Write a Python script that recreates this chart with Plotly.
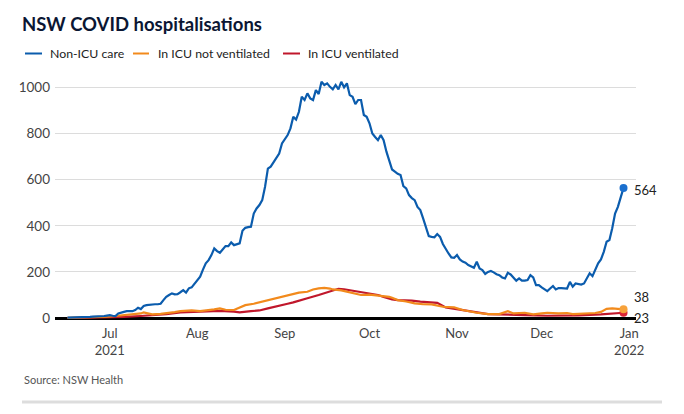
import pandas as pd
import plotly.graph_objects as go

# ---------------- data ----------------
non_icu_start = "2021-06-16"
non_icu = [
    # Jun 16-30
    2, 2, 3, 3, 3, 3, 4, 5, 5, 6, 6, 7, 8, 9, 11,
    # Jul
    13, 10, 9, 20, 22, 27, 30, 30, 30, 35, 45, 39, 52, 56, 58, 59, 60, 60, 62, 78,
    92, 100, 107, 103, 104, 112, 121, 110, 129, 133, 150,
    # Aug
    165, 179, 210, 237, 251, 273, 302, 290, 283, 300, 312, 312, 328, 316, 320, 324,
    378, 391, 394, 396, 453, 475, 490, 511, 569, 648, 656, 675, 692, 713, 757,
    # Sep
    775, 793, 822, 872, 860, 894, 959, 945, 974, 952, 945, 988, 971, 1024, 1010,
    1017, 1002, 991, 1010, 991, 1024, 1000, 1017, 966, 959, 927, 945, 945, 880, 872,
    # Oct
    844, 800, 785, 771, 793, 771, 721, 677, 644, 635, 625, 620, 572, 562, 533, 520,
    511, 482, 468, 432, 396, 355, 352, 350, 364, 352, 321, 299, 280, 263, 261,
    # Nov
    273, 254, 245, 240, 230, 225, 218, 244, 215, 208, 191, 200, 204, 198, 190,
    186, 176, 172, 196, 189, 175, 162, 172, 162, 162, 165, 186, 176, 143, 143,
    # Dec 1-30
    133, 124, 117, 128, 139, 124, 130, 130, 130, 128, 157, 136, 150, 149, 145,
    150, 172, 194, 182, 208, 237, 254, 287, 331, 338, 389, 453, 482, 519, 564,
]
non_icu_dates = pd.date_range(non_icu_start, periods=len(non_icu), freq="D")

icu_not_vent_dates = [
    "2021-06-16", "2021-06-22", "2021-06-27", "2021-06-30", "2021-07-03", "2021-07-06",
    "2021-07-09", "2021-07-12", "2021-07-13", "2021-07-14", "2021-07-16", "2021-07-19",
    "2021-07-21", "2021-07-24", "2021-07-26", "2021-07-28", "2021-07-30", "2021-08-02",
    "2021-08-04", "2021-08-07", "2021-08-09", "2021-08-11", "2021-08-14", "2021-08-16",
    "2021-08-18", "2021-08-21", "2021-08-23", "2021-08-26", "2021-08-28", "2021-08-30",
    "2021-09-01", "2021-09-04", "2021-09-06", "2021-09-09", "2021-09-11", "2021-09-13",
    "2021-09-15", "2021-09-17", "2021-09-18", "2021-09-21", "2021-09-23", "2021-09-25",
    "2021-09-28", "2021-10-01", "2021-10-03", "2021-10-06", "2021-10-08", "2021-10-09",
    "2021-10-11", "2021-10-14", "2021-10-17", "2021-10-20", "2021-10-23", "2021-10-27",
    "2021-10-31", "2021-11-03", "2021-11-06", "2021-11-08", "2021-11-12", "2021-11-16",
    "2021-11-19", "2021-11-21", "2021-11-25", "2021-11-28", "2021-12-01", "2021-12-03",
    "2021-12-07", "2021-12-10", "2021-12-12", "2021-12-14", "2021-12-17", "2021-12-20",
    "2021-12-22", "2021-12-24", "2021-12-26", "2021-12-28", "2021-12-30",
]
icu_not_vent = [
    1, 2, 4, 6, 9, 12,
    15, 20, 25, 22, 16, 18,
    20, 26, 30, 31, 33, 30,
    32, 38, 42, 36, 35, 45,
    56, 62, 68, 74, 80, 86,
    95, 104, 110, 114, 124, 129,
    131, 128, 124, 120, 115, 110,
    100, 102, 100, 94, 92, 88,
    78, 72, 64, 60, 59, 49,
    46, 35, 28, 23, 17, 17,
    30, 20, 23, 16, 20, 23,
    20, 22, 17, 18, 20, 22,
    27, 40, 42, 40, 38,
]

icu_vent_dates = [
    "2021-06-16", "2021-06-24", "2021-06-30", "2021-07-06", "2021-07-12", "2021-07-16",
    "2021-07-21", "2021-07-26", "2021-07-30", "2021-08-04", "2021-08-09", "2021-08-14",
    "2021-08-16", "2021-08-20", "2021-08-23", "2021-08-26", "2021-08-30", "2021-09-02",
    "2021-09-04", "2021-09-07", "2021-09-09", "2021-09-13", "2021-09-16", "2021-09-18",
    "2021-09-20", "2021-09-22", "2021-09-25", "2021-09-28", "2021-10-01", "2021-10-04",
    "2021-10-06", "2021-10-09", "2021-10-11", "2021-10-14", "2021-10-16", "2021-10-19",
    "2021-10-25", "2021-10-28", "2021-11-02", "2021-11-07", "2021-11-12", "2021-11-18",
    "2021-11-25", "2021-12-03", "2021-12-10", "2021-12-14", "2021-12-22", "2021-12-27",
    "2021-12-30",
]
icu_vent = [
    0, 1, 3, 5, 9, 12,
    17, 25, 27, 29, 31, 28,
    25, 30, 33, 42, 52, 62,
    68, 80, 86, 100, 112, 120,
    127, 125, 118, 112, 106, 100,
    92, 81, 78, 78, 76, 71,
    66, 46, 38, 27, 17, 16,
    13, 10, 10, 12, 16, 20,
    23,
]

series_names = ["Non-ICU care", "In ICU not ventilated", "In ICU ventilated"]
series_colors = ["#0b5cad", "#f28a1c", "#c0172b"]
marker_colors = ["#1b6fce", "#f7a23b", "#dc2436"]

month_ticks = ["2021-07-01", "2021-08-01", "2021-09-01", "2021-10-01",
               "2021-11-01", "2021-12-01", "2022-01-01"]
month_labels = ["Jul<br>2021", "Aug", "Sep", "Oct", "Nov", "Dec", "Jan<br>2022"]
y_ticks = [0, 200, 400, 600, 800, 1000]

# ---------------- figure ----------------
W, H = 684, 414
L, R, T, B = 55, 48, 79, 95
pw, ph = W - L - R, H - T - B

def px_x(px):
    return (px - L) / pw

def px_y(py):
    return (H - B - py) / ph

FONT = "Lato"
fig = go.Figure()

all_x = [list(non_icu_dates), icu_not_vent_dates, icu_vent_dates]
all_y = [non_icu, icu_not_vent, icu_vent]

# draw red, orange, then blue on top
for i in [2, 1, 0]:
    fig.add_trace(go.Scatter(
        x=all_x[i], y=all_y[i], mode="lines", name=series_names[i],
        line=dict(color=series_colors[i], width=2.2), showlegend=False,
        hoverinfo="skip",
    ))
for i in [2, 1, 0]:
    fig.add_trace(go.Scatter(
        x=[all_x[i][-1]], y=[all_y[i][-1]], mode="markers",
        marker=dict(color=marker_colors[i], size=8), showlegend=False,
        hoverinfo="skip", cliponaxis=False,
    ))

# end labels
label_shifts = [-2, 12, -5]
for i in range(3):
    fig.add_annotation(
        x=all_x[i][-1], y=all_y[i][-1], xref="x", yref="y",
        text=str(all_y[i][-1]), showarrow=False, xanchor="left", yanchor="middle",
        xshift=8, yshift=label_shifts[i],
        font=dict(family=FONT, size=13, color="#222222"),
    )

# custom legend
legend_items = [(25, 42, 48), (133, 149, 156), (283, 300, 306)]
for i, (x0, x1, tx) in enumerate(legend_items):
    fig.add_shape(type="line", xref="paper", yref="paper",
                  x0=px_x(x0), x1=px_x(x1), y0=px_y(53.5), y1=px_y(53.5),
                  line=dict(color=series_colors[i], width=2))
    fig.add_annotation(x=px_x(tx), y=px_y(53.5), xref="paper", yref="paper",
                       text=series_names[i], showarrow=False, xanchor="left",
                       yanchor="middle", font=dict(family=FONT, size=12.3, color="#222222"))

# source + separator
fig.add_annotation(x=px_x(22), y=px_y(379), xref="paper", yref="paper",
                   text="Source: NSW Health", showarrow=False, xanchor="left",
                   yanchor="middle", font=dict(family=FONT, size=11, color="#555555"))
fig.add_shape(type="line", xref="paper", yref="paper",
              x0=px_x(22), x1=px_x(662), y0=px_y(402), y1=px_y(402),
              line=dict(color="#dddddd", width=3))

fig.update_layout(
    width=W, height=H,
    margin=dict(l=L, r=R, t=T, b=B, pad=0),
    paper_bgcolor="white", plot_bgcolor="white",
    title=dict(text="<b>NSW COVID hospitalisations</b>", xref="container", yref="container",
               x=22 / W, y=1 - 25 / H, xanchor="left", yanchor="middle",
               font=dict(family=FONT, size=18.5, color="#0b1633")),
    xaxis=dict(
        type="date", range=["2021-06-11 14:00", "2022-01-03 10:00"],
        tickvals=month_ticks, ticktext=month_labels, showgrid=False,
        zeroline=False, showline=False, ticks="", ticklabelstandoff=5,
        tickfont=dict(family=FONT, size=13, color="#444444"),
    ),
    yaxis=dict(
        range=[-4, 1036], tickvals=y_ticks, showgrid=True, gridcolor="#dcdcdc",
        gridwidth=1, zeroline=True, zerolinecolor="#000000", zerolinewidth=3,
        showline=False, ticks="", ticklabelstandoff=4,
        tickfont=dict(family=FONT, size=13.5, color="#444444"),
    ),
)

fig.write_html("out.html", config={"displayModeBar": False},
               post_script="document.body.style.margin='0';document.body.style.overflow='hidden';")
